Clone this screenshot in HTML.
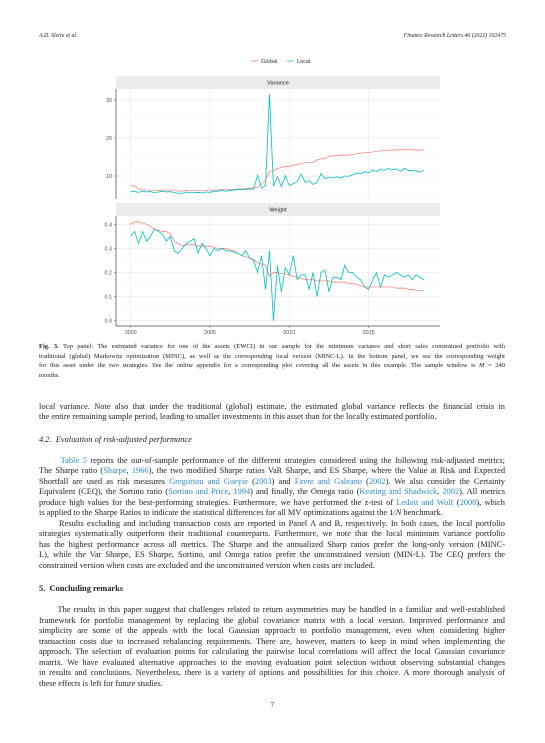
<!DOCTYPE html>
<html><head><meta charset="utf-8">
<style>
body{margin:0;background:#fff;}
#page{position:relative;width:545px;height:743px;overflow:hidden;background:#fff;font-family:"Liberation Serif",serif;color:#222;}
.ln{position:absolute;left:39px;width:466px;white-space:nowrap;text-align:justify;text-align-last:justify;font-size:8.4px;line-height:9px;}
.ln.last{text-align-last:left;}
.cap{font-size:6.5px;line-height:7px;}
a,.lk{color:#2b8cc4;text-decoration:none;}
.hdr{position:absolute;top:33px;font-size:5.8px;font-style:italic;}
</style></head>
<body>
<div id="page">
<div class="hdr" style="left:39px">A.D. Sleire et al.</div>
<div class="hdr" style="right:39px">Finance Research Letters 46 (2022) 102475</div>

<svg id="chart" width="545" height="340" style="position:absolute;left:0;top:0" font-family="Liberation Sans, sans-serif"></svg>

<div class="ln cap" style="top:343px"><b>Fig. 3.</b> Top panel: The estimated variance for one of the assets (EWCI) in our sample for the minimum variance and short sales constrained portfolio with</div>
<div class="ln cap" style="top:352.5px">traditional (global) Markowitz optimization (MINC), as well as the corresponding local version (MINC-L). In the bottom panel, we see the corresponding weight</div>
<div class="ln cap" style="top:362px">for this asset under the two strategies. See the online appendix for a corresponding plot covering all the assets in this example. The sample window is <i>M</i> = 240</div>
<div class="ln cap last" style="top:371.5px">months.</div>

<div class="ln" style="top:401.5px">local variance. Note also that under the traditional (global) estimate, the estimated global variance reflects the financial crisis in</div>
<div class="ln last" style="top:412px">the entire remaining sample period, leading to smaller investments in this asset than for the locally estimated portfolio.</div>

<div class="ln last" style="top:434.5px"><i>4.2.&nbsp; Evaluation of risk-adjusted performance</i></div>

<div class="ln" style="top:455.5px">&nbsp;&nbsp;&nbsp;&nbsp;&nbsp;&nbsp;<span class="lk">Table 5</span> reports the out-of-sample performance of the different strategies considered using the following risk-adjusted metrics;</div>
<div class="ln" style="top:466px">The Sharpe ratio (<span class="lk">Sharpe</span>, <span class="lk">1966</span>), the two modified Sharpe ratios VaR Sharpe, and ES Sharpe, where the Value at Risk and Expected</div>
<div class="ln" style="top:476.5px">Shortfall are used as risk measures <span class="lk">Gregoriou and Gueyie</span> (<span class="lk">2003</span>) and <span class="lk">Favre and Galeano</span> (<span class="lk">2002</span>). We also consider the Certainty</div>
<div class="ln" style="top:487px">Equivalent (CEQ), the Sortino ratio (<span class="lk">Sortino and Price</span>, <span class="lk">1994</span>) and finally, the Omega ratio (<span class="lk">Keating and Shadwick</span>, <span class="lk">2002</span>). All metrics</div>
<div class="ln" style="top:497.5px">produce high values for the best-performing strategies. Furthermore, we have performed the z-test of <span class="lk">Ledoit and Wolf</span> (<span class="lk">2008</span>), which</div>
<div class="ln last" style="top:508px">is applied to the Sharpe Ratios to indicate the statistical differences for all MV optimizations against the 1/<i>N</i> benchmark.</div>
<div class="ln" style="top:518.5px">&nbsp;&nbsp;&nbsp;&nbsp;&nbsp;&nbsp;Results excluding and including transaction costs are reported in Panel A and B, respectively. In both cases, the local portfolio</div>
<div class="ln" style="top:529px">strategies systematically outperform their traditional counterparts. Furthermore, we note that the local minimum variance portfolio</div>
<div class="ln" style="top:539.5px">has the highest performance across all metrics. The Sharpe and the annualized Sharp ratios prefer the long-only version (MINC-</div>
<div class="ln" style="top:550px">L), while the Var Sharpe, ES Sharpe, Sortino, and Omega ratios prefer the unconstrained version (MIN-L). The CEQ prefers the</div>
<div class="ln last" style="top:560.5px">constrained version when costs are excluded and the unconstrained version when costs are included.</div>

<div class="ln last" style="top:583.5px"><b>5.&nbsp; Concluding remarks</b></div>

<div class="ln" style="top:605px">&nbsp;&nbsp;&nbsp;&nbsp;&nbsp;&nbsp;The results in this paper suggest that challenges related to return asymmetries may be handled in a familiar and well-established</div>
<div class="ln" style="top:615.5px">framework for portfolio management by replacing the global covariance matrix with a local version. Improved performance and</div>
<div class="ln" style="top:626px">simplicity are some of the appeals with the local Gaussian approach to portfolio management, even when considering higher</div>
<div class="ln" style="top:636.5px">transaction costs due to increased rebalancing requirements. There are, however, matters to keep in mind when implementing the</div>
<div class="ln" style="top:647px">approach. The selection of evaluation points for calculating the pairwise local correlations will affect the local Gaussian covariance</div>
<div class="ln" style="top:657.5px">matrix. We have evaluated alternative approaches to the moving evaluation point selection without observing substantial changes</div>
<div class="ln" style="top:668px">in results and conclusions. Nevertheless, there is a variety of options and possibilities for this choice. A more thorough analysis of</div>
<div class="ln last" style="top:678.5px">these effects is left for future studies.</div>

<div style="position:absolute;top:700px;left:0;width:545px;text-align:center;font-size:7.5px;">7</div>
</div>

<script>
const startYear = 2000;
const stepYears = 0.25;
const varGlobal = [7.5,7.3,6.6,6.3, 6.3,6.2,6.2,6.2, 6.3,6.3,6.3,6.3, 6.0,6.0,6.2,6.2, 6.2,6.2,6.2,6.2, 6.3,6.3,6.3,6.4, 6.4,6.4,6.5,6.6, 6.6,6.7,6.8,6.9, 7.0,8.0,8.8,11.2, 11.4,12.0,12.3,12.5, 12.6,12.8,13.0,13.3, 13.5,13.5,13.5,14.3, 14.5,14.6,15.2,15.3, 15.4,15.5,15.5,15.5, 15.7,15.8,16.0,16.1, 16.2,16.3,16.5,16.6, 16.7,16.8,16.8,16.9, 16.9,16.9,16.9,16.9, 16.8,16.8,16.9];
const varLocal = [6.0,5.9,5.7,6.0, 5.8,5.9,5.6,5.8, 6.0,5.8,5.9,5.6, 5.5,5.4,5.8,5.6, 5.6,5.7,5.5,5.8, 5.7,6.0,6.0,6.2, 6.0,6.2,6.3,6.5, 6.4,6.5,6.6,6.5, 10.2,6.8,7.5,31.5, 7.3,9.8,7.2,10.1, 7.5,8.0,8.5,10.5, 8.3,8.8,7.8,8.3, 10.6,9.3,9.7,9.5, 9.8,9.5,10.0,9.9, 10.3,10.8,10.6,11.2, 10.8,11.5,11.2,11.8, 11.5,12.0,11.6,11.9, 11.2,12.0,11.5,11.4, 11.3,11.0,11.5];
const wGlobal = [0.40,0.41,0.41,0.405, 0.40,0.39,0.38,0.375, 0.37,0.37,0.36,0.33, 0.32,0.31,0.315,0.315, 0.315,0.31,0.31,0.31, 0.31,0.305,0.30,0.30, 0.30,0.295,0.29,0.28, 0.27,0.265,0.26,0.255, 0.24,0.235,0.23,0.185, 0.20,0.20,0.195,0.195, 0.19,0.185,0.18,0.175, 0.17,0.17,0.17,0.165, 0.165,0.165,0.165,0.16, 0.16,0.16,0.16,0.155, 0.155,0.15,0.145,0.14, 0.14,0.14,0.14,0.14, 0.14,0.14,0.14,0.135, 0.135,0.135,0.13,0.13, 0.125,0.125,0.125];
const wLocal = [0.35,0.37,0.32,0.37, 0.33,0.35,0.38,0.37, 0.36,0.33,0.35,0.29, 0.28,0.30,0.32,0.33, 0.34,0.28,0.32,0.30, 0.27,0.30,0.29,0.30, 0.29,0.29,0.285,0.28, 0.27,0.29,0.26,0.25, 0.20,0.27,0.13,0.29, 0.0,0.23,0.12,0.22, 0.19,0.27,0.17,0.19, 0.19,0.13,0.20,0.10, 0.20,0.21,0.12,0.18, 0.18,0.17,0.23,0.20, 0.20,0.18,0.17,0.14, 0.13,0.17,0.20,0.14, 0.19,0.18,0.19,0.20, 0.19,0.18,0.19,0.17, 0.19,0.18,0.17];
const xTicks = [2000,2005,2010,2015];
const varTicks = [10,20,30];
const wTicks = [0.0,0.1,0.2,0.3,0.4];

const svg = document.getElementById('chart');
const NS = 'http://www.w3.org/2000/svg';
const L = 116, R = 440;
const xs = y => 130.7 + (y - 2000) * 15.86;
const yV = v => 214 - 3.8 * v;
const yW = w => 320.7 - 241 * w;
function mk(tag, attrs){const e=document.createElementNS(NS,tag);for(const k in attrs)e.setAttribute(k,attrs[k]);svg.appendChild(e);return e;}

let e;
e = mk('line',{x1:251,y1:61,x2:258,y2:61,stroke:'#F8766D','stroke-width':0.8});
 
e = mk('text',{x:261,y:63,'font-size':5.6,fill:'#333'}); e.textContent='Global';
 
e = mk('line',{x1:287,y1:61,x2:294,y2:61,stroke:'#00BFC4','stroke-width':0.8});
 
e = mk('text',{x:297,y:63,'font-size':5.6,fill:'#333'}); e.textContent='Local';
 

function panel(name, top, bottom, stripTop, yfn, ticks, minor, fmt, g, l){
  e = mk('rect',{x:L,y:stripTop,width:R-L,height:top-stripTop,fill:'#ebebeb'});
   
  e = mk('text',{x:(L+R)/2,y:stripTop+(top-stripTop)/2+2,'font-size':5.6,'text-anchor':'middle',fill:'#1a1a1a'});
  e.textContent = name==='variance'?'Variance':'Weight';
   
  minor.forEach(v=>{ e = mk('line',{x1:L,x2:R,y1:yfn(v),y2:yfn(v),stroke:'#f3f3f3','stroke-width':0.4});
      });
  ticks.forEach(v=>{ e = mk('line',{x1:L,x2:R,y1:yfn(v),y2:yfn(v),stroke:'#ebebeb','stroke-width':0.7});
     
    e = mk('text',{x:L-4,y:yfn(v)+2,'font-size':5.4,'text-anchor':'end',fill:'#4d4d4d'}); e.textContent=fmt(v);
     
    e = mk('line',{x1:L-2,x2:L,y1:yfn(v),y2:yfn(v),stroke:'#555','stroke-width':0.5});
      });
  xTicks.forEach(t=>{ e = mk('line',{x1:xs(t),x2:xs(t),y1:top,y2:bottom,stroke:'#ebebeb','stroke-width':0.7});
      });
  const pts = arr => arr.map((v,i)=>xs(startYear+i*stepYears).toFixed(2)+','+yfn(v).toFixed(2)).join(' ');
  e = mk('polyline',{points:pts(g),fill:'none',stroke:'#F8766D','stroke-width':0.7});
   
  e = mk('polyline',{points:pts(l),fill:'none',stroke:'#00BFC4','stroke-width':0.8});
   
  e = mk('line',{x1:L,x2:L,y1:top,y2:bottom,stroke:'#777','stroke-width':1});
   
}
panel('variance', 89, 199, 76, yV, varTicks, [5,15,25], v=>String(v), varGlobal, varLocal);
panel('weight', 216, 326, 203, yW, wTicks, [0.05,0.15,0.25,0.35], v=>v.toFixed(1), wGlobal, wLocal);
e = mk('line',{x1:L,x2:R,y1:326,y2:326,stroke:'#777','stroke-width':1});
 
xTicks.forEach(t=>{
  e = mk('line',{x1:xs(t),x2:xs(t),y1:326,y2:328,stroke:'#555','stroke-width':0.5});
   
  e = mk('text',{x:xs(t),y:334,'font-size':5.4,'text-anchor':'middle',fill:'#4d4d4d'}); e.textContent=String(t);
   
});
</script>
</body></html>
